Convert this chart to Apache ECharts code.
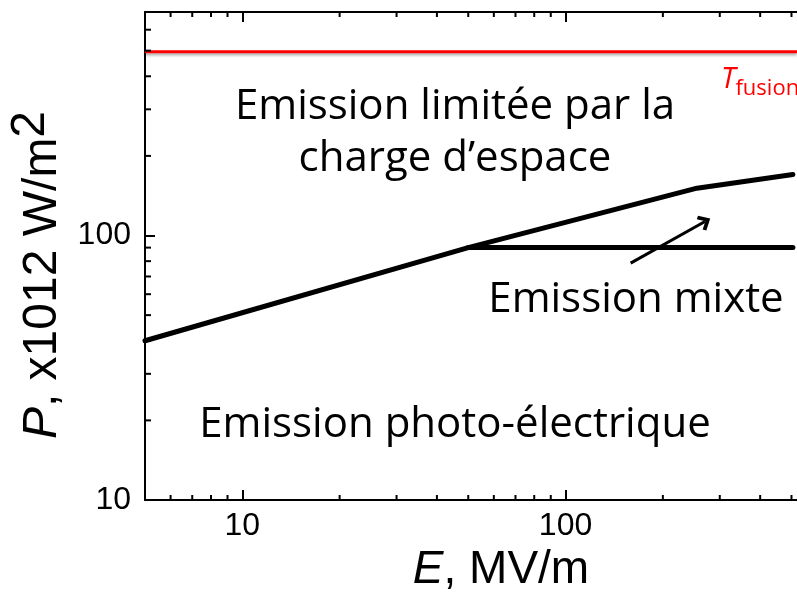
<!DOCTYPE html>
<html>
<head>
<meta charset="utf-8">
<script src="https://cdn.jsdelivr.net/npm/echarts@6/dist/echarts.min.js"></script>
<style>
  html, body { margin: 0; padding: 0; background: #fff; }
  #chart { width: 797px; height: 594px; }
</style>
</head>
<body>
<div id="chart"></div>
<script>
// Axis ranges: E in MV/m, P in x1012 W/m2
var E_MIN = 5, E_MAX = 520;
var P_MIN = 10, P_MAX = 700;

// Space-charge limited boundary
var boundaryE = [5, 50, 255, 505];
var boundaryP = [40, 90, 151, 170];

// Photo-electric limit (mixed regime floor)
var mixedE = [50, 505];
var mixedP = [90, 90];

// Melting limit
var fusionE = [5, 520];
var fusionP = [495, 495];

// Arrow, tail then head
var arrowE = [159, 270];
var arrowP = [78.6, 113];

// Ticks
var majorTicks = [10, 100];
var eMinor = [6, 7, 8, 9, 20, 30, 40, 50, 60, 70, 80, 90, 200, 300, 400, 500];
var pMinor = [20, 30, 40, 50, 60, 70, 80, 90, 200, 300, 400, 500, 600];

var AXIS_FONT = '"Liberation Sans", Arial, sans-serif';
var NOTE_FONT = '"Open Sans", Lato, sans-serif';

function zip(xs, ys) {
    return xs.map(function(x, i) { return [x, ys[i]]; });
}

/**
 * Minor ticks drawn through the axes (log axes space them evenly otherwise)
 */
function minorTickSeries(data, dx, dy) {
    return {
        type: 'custom',
        silent: true,
        clip: false,
        z: 5,
        data: data,
        renderItem: function(params, api) {
            var p = api.coord([api.value(0), api.value(1)]);
            return {
                type: 'line',
                shape: { x1: p[0], y1: p[1], x2: p[0] + dx, y2: p[1] + dy },
                style: { stroke: '#000', lineWidth: 2 }
            };
        }
    };
}

var chart = echarts.init(document.getElementById('chart'));

var option = {
    animation: false,
    backgroundColor: '#fff',
    grid: { left: 145, right: 0, top: 12, bottom: 94, outerBoundsMode: 'none' },
    xAxis: [{
        type: 'log',
        logBase: 10,
        min: E_MIN,
        max: E_MAX,
        position: 'bottom',
        name: '{i|E}{n|, MV/m}',
        nameLocation: 'middle',
        nameGap: 46,
        nameTextStyle: {
            padding: [0, 0, 0, 60],
            rich: {
                i: { fontFamily: AXIS_FONT, fontSize: 46, fontStyle: 'italic', color: '#000' },
                n: { fontFamily: AXIS_FONT, fontSize: 46, color: '#000' }
            }
        },
        axisLine: { lineStyle: { color: '#000', width: 2 } },
        axisTick: { inside: true, length: 10, customValues: majorTicks, lineStyle: { color: '#000', width: 2 } },
        axisLabel: { customValues: majorTicks, fontFamily: AXIS_FONT, fontSize: 32, color: '#000', margin: 10 },
        splitLine: { show: false },
        minorTick: { show: false }
    }, {
        type: 'log',
        logBase: 10,
        min: E_MIN,
        max: E_MAX,
        position: 'top',
        axisLine: { lineStyle: { color: '#000', width: 2 } },
        axisTick: { inside: true, length: 10, customValues: majorTicks, lineStyle: { color: '#000', width: 2 } },
        axisLabel: { show: false },
        splitLine: { show: false }
    }],
    yAxis: {
        type: 'log',
        logBase: 10,
        min: P_MIN,
        max: P_MAX,
        name: '{i|P}{n|, x1012 W/m}{s|2}',
        nameLocation: 'middle',
        nameGap: 59,
        nameTextStyle: {
            padding: [0, 38, 0, 0],
            rich: {
                i: { fontFamily: AXIS_FONT, fontSize: 48, fontStyle: 'italic', color: '#000' },
                n: { fontFamily: AXIS_FONT, fontSize: 48, color: '#000' },
                s: { fontFamily: AXIS_FONT, fontSize: 48, color: '#000', padding: [0, 0, 24, 0] }
            }
        },
        axisLine: { lineStyle: { color: '#000', width: 2 } },
        axisTick: { inside: true, length: 10, customValues: majorTicks, lineStyle: { color: '#000', width: 2 } },
        axisLabel: { customValues: majorTicks, fontFamily: AXIS_FONT, fontSize: 32, color: '#000', margin: 14 },
        splitLine: { show: false }
    },
    series: [
        {
            type: 'line',
            data: zip(fusionE, fusionP),
            symbol: 'none',
            silent: true,
            lineStyle: {
                color: '#ff0000',
                width: 3,
                shadowColor: 'rgba(0,0,0,0.35)',
                shadowBlur: 3,
                shadowOffsetY: 2
            }
        },
        {
            type: 'line',
            data: zip(boundaryE, boundaryP),
            symbol: 'none',
            silent: true,
            lineStyle: { color: '#000', width: 5, cap: 'round', join: 'round' }
        },
        {
            type: 'line',
            data: zip(mixedE, mixedP),
            symbol: 'none',
            silent: true,
            lineStyle: { color: '#000', width: 5, cap: 'round' },
            markLine: {
                silent: true,
                symbol: ['none', 'path://M10,0 L20,10 L17,13 L10,6 L3,13 L0,10 Z'],
                symbolSize: [17, 12],
                label: { show: false },
                lineStyle: { color: '#000', width: 3, type: 'solid' },
                data: [[
                    { coord: [arrowE[0], arrowP[0]] },
                    { coord: [arrowE[1], arrowP[1]] }
                ]]
            }
        },
        minorTickSeries(pMinor.map(function(v) { return [E_MIN, v]; }), 6, 0),
        minorTickSeries(eMinor.map(function(v) { return [v, P_MIN]; }), 0, -5),
        minorTickSeries(eMinor.map(function(v) { return [v, P_MAX]; }), 0, 5)
    ],
    graphic: [
        {
            type: 'text',
            silent: true,
            style: {
                text: 'Emission limitée par la\ncharge d\u2019espace',
                x: 455, y: 133,
                align: 'center', verticalAlign: 'middle',
                fontFamily: NOTE_FONT, fontSize: 42, lineHeight: 52,
                fill: '#000'
            }
        },
        {
            type: 'text',
            silent: true,
            style: {
                text: 'Emission mixte',
                x: 636, y: 300,
                align: 'center', verticalAlign: 'middle',
                fontFamily: NOTE_FONT, fontSize: 42,
                fill: '#000'
            }
        },
        {
            type: 'text',
            silent: true,
            style: {
                text: 'Emission photo-électrique',
                x: 455, y: 425,
                align: 'center', verticalAlign: 'middle',
                fontFamily: NOTE_FONT, fontSize: 42,
                fill: '#000'
            }
        },
        {
            type: 'text',
            silent: true,
            style: {
                text: '{t|T}{s|fusion}',
                x: 721, y: 80,
                align: 'left', verticalAlign: 'middle',
                fill: '#ff0000',
                rich: {
                    t: { fontFamily: NOTE_FONT, fontSize: 29, fontStyle: 'italic', fill: '#ff0000' },
                    s: { fontFamily: NOTE_FONT, fontSize: 22, fill: '#ff0000', padding: [18, 0, 0, 0] }
                }
            }
        }
    ]
};

chart.setOption(option);

window.addEventListener('resize', function() {
    chart.resize();
});
</script>
</body>
</html>
